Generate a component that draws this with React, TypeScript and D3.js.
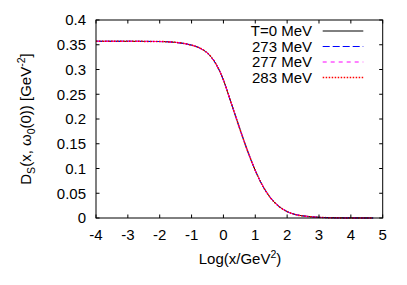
import React from "react";
import * as d3 from "d3";

const xVals = [-4, -3.5, -3, -2.5, -2, -1.75, -1.5, -1.25, -1, -0.75, -0.5, -0.25, 0, 0.25, 0.5, 0.75, 1, 1.25, 1.5, 1.75, 2, 2.25, 2.5, 2.75, 3, 3.5, 4, 4.7];
const dT0 = [0.357, 0.357, 0.357, 0.3568, 0.3565, 0.356, 0.3548, 0.3527, 0.3492, 0.3435, 0.333, 0.313, 0.279, 0.231, 0.183, 0.137, 0.096, 0.063, 0.039, 0.023, 0.013, 0.0072, 0.0042, 0.0024, 0.0013, 0.0004, 0.0001, 0.0];
const d273 = dT0;
const d277 = dT0;
const d283 = dT0;

const seriesNames = ["T=0 MeV", "273 MeV", "277 MeV", "283 MeV"];
const seriesData = [dT0, d273, d277, d283];
const seriesColors = ["#000000", "#0000ff", "#ff00ff", "#ff0000"];
const seriesDash = ["", "7,3", "4,4", "1.5,1.5"];
const seriesWidth = [1, 1, 1, 1.5];

const xTicks = [-4, -3, -2, -1, 0, 1, 2, 3, 4, 5];
const yTicks = [0, 0.05, 0.1, 0.15, 0.2, 0.25, 0.3, 0.35, 0.4];

const W = 407;
const H = 285;
const L = 96;
const R = 382.7;
const T = 20;
const B = 218;
const FONT = "'Liberation Sans', Arial, sans-serif";

export default function App() {
  const x = d3.scaleLinear().domain([-4, 5]).range([L, R]);
  const y = d3.scaleLinear().domain([0, 0.4]).range([B, T]);
  const line = d3
    .line<number>()
    .x((_, i) => x(xVals[i]))
    .y((d) => y(d))
    .curve(d3.curveMonotoneX);
  const tl = 3.5;
  return (
    <svg
      width={W}
      height={H}
      style={{ position: "absolute", left: 0, top: 0, background: "#fff" }}
      fontFamily={FONT}
    >
      {seriesData.map((d, i) => (
        <path
          key={i}
          d={line(d) || ""}
          fill="none"
          stroke={seriesColors[i]}
          strokeWidth={seriesWidth[i]}
          strokeDasharray={seriesDash[i] || undefined}
        />
      ))}
      <rect x={L} y={T} width={R - L} height={B - T} fill="none" stroke="#000" strokeWidth={1} />
      {xTicks.map((t) => (
        <g key={"x" + t}>
          <line x1={x(t)} x2={x(t)} y1={B} y2={B - tl} stroke="#000" />
          <line x1={x(t)} x2={x(t)} y1={T} y2={T + tl} stroke="#000" />
          <text x={x(t)} y={239.5} textAnchor="middle" fontSize={15}>
            {t}
          </text>
        </g>
      ))}
      {yTicks.map((t) => (
        <g key={"y" + t}>
          <line x1={L} x2={L + tl} y1={y(t)} y2={y(t)} stroke="#000" />
          <line x1={R} x2={R - tl} y1={y(t)} y2={y(t)} stroke="#000" />
          <text x={86} y={y(t) + 5.3} textAnchor="end" fontSize={15}>
            {t}
          </text>
        </g>
      ))}
      <text x={240} y={263.5} textAnchor="middle" fontSize={15}>
        Log(x/GeV
        <tspan fontSize={10.5} dy={-6}>2</tspan>
        <tspan dy={6}>)</tspan>
      </text>
      <text
        transform={`translate(31,${(T + B) / 2}) rotate(-90)`}
        textAnchor="middle"
        fontSize={15}
      >
        D<tspan fontSize={10.5} dy={4}>S</tspan>
        <tspan dy={-4}>(x, ω</tspan>
        <tspan fontSize={10.5} dy={4}>0</tspan>
        <tspan dy={-4}>(0)) [GeV</tspan>
        <tspan fontSize={10.5} dy={-6}>-2</tspan>
        <tspan dy={6}>]</tspan>
      </text>
      {seriesNames.map((n, i) => {
        const cy = 31 + i * 15.5;
        return (
          <g key={n}>
            <text x={312} y={cy + 5.3} textAnchor="end" fontSize={15}>
              {n}
            </text>
            <line
              x1={322.7}
              x2={363.3}
              y1={cy}
              y2={cy}
              stroke={seriesColors[i]}
              strokeWidth={seriesWidth[i]}
              strokeDasharray={seriesDash[i] || undefined}
            />
          </g>
        );
      })}
    </svg>
  );
}
